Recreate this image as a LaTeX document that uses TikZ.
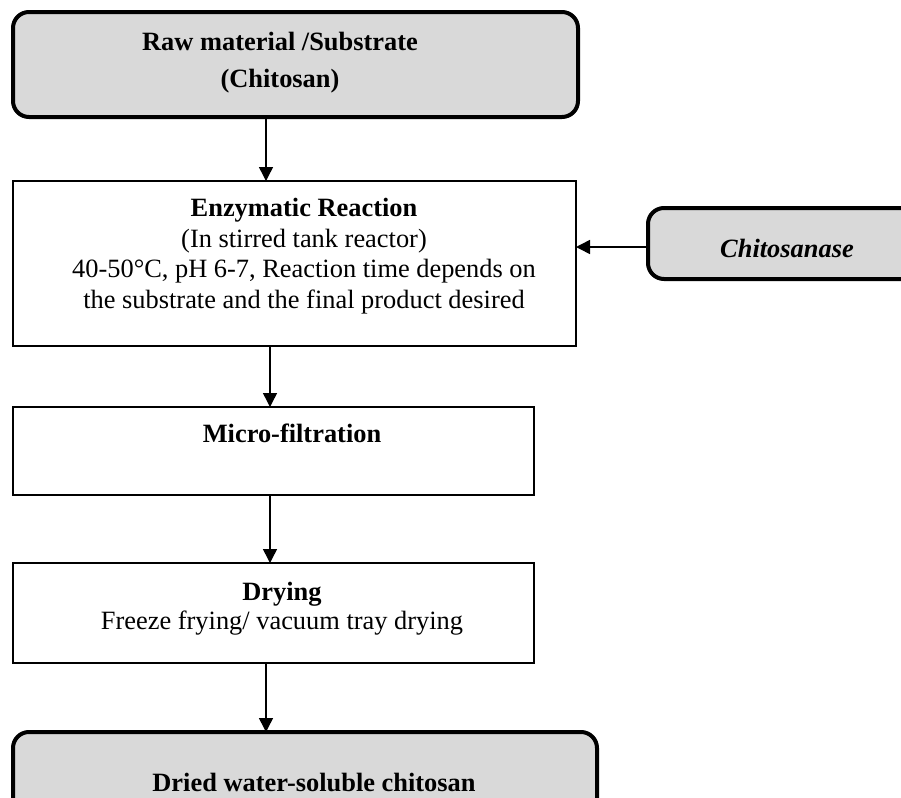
\documentclass[tikz,border=0pt]{standalone}
\usepackage{fontspec}
\setmainfont{Liberation Serif}
\usetikzlibrary{arrows.meta,fit}
\definecolor{shade}{HTML}{D9D9D9}

\begin{document}
\begin{tikzpicture}[x=0.5pt,y=-0.5pt,
  endbox/.style={draw,line width=2pt,rounded corners=8pt,fill=shade,inner sep=0pt,outer sep=0pt},
  procbox/.style={draw,line width=1pt,inner sep=0pt,outer sep=0pt},
  txt/.style={anchor=base,align=center,inner sep=0pt},
  flow/.style={line width=0.75pt,-{Triangle[length=7pt,width=7pt]}}]

\useasboundingbox (0,0) rectangle (901,798);
\clip (0,0) rectangle (901,798);

% boxes
\node[endbox,fit={(13,12) (578,117)}] (raw) {};
\node[procbox,fit={(13,181) (576,346)}] (enz) {};
\node[endbox,fit={(648,208) (926,279)}] (enzyme) {};
\node[procbox,fit={(13,407) (534,495)}] (filt) {};
\node[procbox,fit={(13,563) (534,663)}] (dry) {};
\node[endbox,fit={(13,732) (597,837)}] (prod) {};

% texts (base = last line)
\node[txt,font={\fontsize{13.2pt}{18.5pt}\selectfont\bfseries}] (raw-t) at (280,87)
  {Raw material /Substrate\\(Chitosan)};
\node[txt,font={\fontsize{13.2pt}{15.2pt}\selectfont}] (enz-t) at (304,308)
  {\textbf{Enzymatic Reaction}\\(In stirred tank reactor)\\40-50°C, pH 6-7, Reaction time depends on\\the substrate and the final product desired};
\node[txt,font={\fontsize{13.2pt}{15pt}\selectfont\bfseries\itshape}] (enzyme-t) at (787,257) {Chitosanase};
\node[txt,font={\fontsize{13.2pt}{15pt}\selectfont\bfseries}] (filt-t) at (292,442) {Micro-filtration};
\node[txt,font={\fontsize{13.2pt}{14.5pt}\selectfont}] (dry-t) at (282,629)
  {\textbf{Drying}\\Freeze frying/ vacuum tray drying};
\node[txt,font={\fontsize{13.2pt}{15pt}\selectfont\bfseries}] (prod-t) at (314,791) {Dried water-soluble chitosan};

% arrows
\coordinate (c1) at (266,0);
\coordinate (c2) at (270,0);
\coordinate (c3) at (0,247);
\draw[flow] (raw.south -| c1) -- (enz.north -| c1);
\draw[flow] (enz.south -| c2) -- (filt.north -| c2);
\draw[flow] (filt.south -| c2) -- (dry.north -| c2);
\draw[flow] (dry.south -| c1) -- (prod.north -| c1);
\draw[flow] (enzyme.west |- c3) -- (enz.east |- c3);
\end{tikzpicture}
\end{document}
